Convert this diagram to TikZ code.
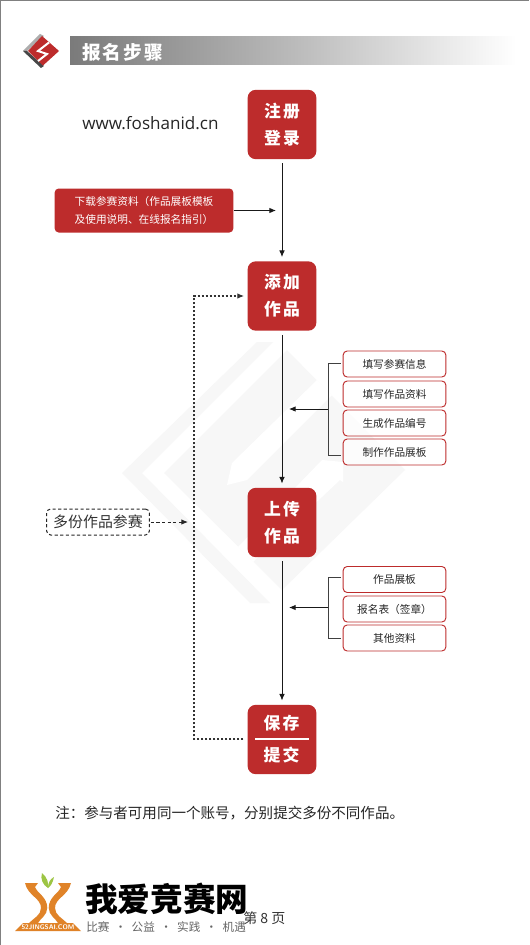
\documentclass[tikz,border=0pt]{standalone}
\usepackage{fontspec}
\usetikzlibrary{arrows.meta,calc}
\setmainfont{Noto Sans CJK SC}
\newfontfamily\latinf{Open Sans}
\definecolor{cred}{HTML}{BD2C2C}
\definecolor{wm}{HTML}{F7F7F7}
\definecolor{corg}{HTML}{E08328}
\definecolor{cleaf}{HTML}{9DC544}
\tikzset{
 x=0.75pt,y=-0.75pt,
 mainbox/.style={fill=cred,draw=none,rounded corners=6pt,minimum width=51.5pt,minimum height=52pt,inner sep=0pt,text=white,align=center,font=\fontsize{12.6pt}{20.2pt}\bfseries\selectfont},
 subbox/.style={draw=cred,fill=white,fill opacity=0.7,text opacity=1,line width=0.7pt,rounded corners=3pt,minimum width=77pt,minimum height=19.5pt,inner sep=0pt,font=\fontsize{8pt}{10pt}\selectfont,text=black!85},
 flow/.style={line width=0.7pt,black!90,-{Latex[length=5pt,width=4.2pt]}},
 brk/.style={line width=0.75pt,black!75},
 dot/.style={line width=0.8pt,black!80,dash pattern=on 1.5pt off 1.5pt},
 dsh/.style={line width=0.75pt,black!85,dash pattern=on 2.4pt off 1.8pt},
}
\begin{document}
\begin{tikzpicture}
\useasboundingbox (0,0) rectangle (529,945);
\fill[white] (0,0) rectangle (529,945);
\draw[gray,line width=0.9pt] (0.5,945) -- (0.5,0.5) -- (529,0.5);
% watermark: outer chevron
\fill[wm] (257,342) -- (273,342) -- (142,473) -- (270,603) -- (250,603) -- (122,473) -- cycle;
% watermark: S diamond
\fill[wm] (287,350) -- (405,470) -- (282,590) -- (164,473) -- cycle;
\fill[white] (317,380) -- (232,463) -- (227,485) -- (247,480) -- (332,395) -- cycle;
\fill[white] (322,460) -- (343,462) -- (343,482) -- (340,480) -- (253,562) -- (238,547) -- cycle;
% header
\shade[left color=black!52,right color=white,middle color=black!27] (70,37) rectangle (516,65);
\node[anchor=west,text=white,inner sep=0pt,font=\fontsize{14pt}{16pt}\bfseries\selectfont] (title) at (82,52) {报\hspace{1.5pt}名\hspace{1.5pt}步\hspace{1.5pt}骤};
% logo
\fill[black!32] (40,34) -- (44,36) -- (27,51) -- (23,51) -- cycle;
\fill[black!72] (23,51) -- (27,51) -- (44,66) -- (41,68) -- cycle;
\fill[cred] (42,36) -- (59,51) -- (43,65.5) -- (28,51) -- cycle;
\draw[white,line width=1.5pt] (49,42.5) -- (38,51) -- (47,54) -- (38,61);
% url
\node[anchor=west,inner sep=0pt,font=\latinf\fontsize{12.8pt}{16pt}\selectfont,text=black!85] (url) at (82,123) {www.foshanid.cn};
% main boxes
\node[mainbox] (reg) at (282,124.5) {注\hspace{1.5pt}册\\登\hspace{1.5pt}录};
\node[mainbox] (add) at (282,296) {添\hspace{1.5pt}加\\作\hspace{1.5pt}品};
\node[mainbox] (up) at (282,522.5) {上\hspace{1.5pt}传\\作\hspace{1.5pt}品};
\node[mainbox] (save) at (282,739.5) {};
\node[text=white,inner sep=0pt,font=\fontsize{12.6pt}{16pt}\bfseries\selectfont] (s1) at (281.5,723) {保\hspace{1.5pt}存};
\node[text=white,inner sep=0pt,font=\fontsize{12.6pt}{16pt}\bfseries\selectfont] (s2) at (281.5,755) {提\hspace{1.5pt}交};
\draw[white,line width=0.8pt] (255,739) -- (309,739);
% download box
\node[fill=cred,rounded corners=3pt,minimum width=134pt,minimum height=33pt,inner sep=0pt,text=white,align=center,font=\fontsize{8pt}{14pt}\selectfont] (dl) at (144,210.5) {下载参赛资料（作品展板模板\\及使用说明、在线报名指引）};
% sub boxes
\node[subbox] (a1) at (394.5,364) {填写参赛信息};
\node[subbox] (a2) at (394.5,394) {填写作品资料};
\node[subbox] (a3) at (394.5,423) {生成作品编号};
\node[subbox] (a4) at (394.5,452) {制作作品展板};
\node[subbox] (b1) at (394.5,579.5) {作品展板};
\node[subbox] (b2) at (394.5,609) {报名表（签章）};
\node[subbox] (b3) at (394.5,638) {其他资料};
% multi
\node[draw=black!85,dash pattern=on 2.4pt off 1.8pt,line width=0.75pt,rounded corners=3pt,minimum width=77pt,minimum height=19.5pt,inner sep=0pt,font=\fontsize{11.2pt}{12pt}\selectfont,text=black!80] (multi) at (98,522) {多份作品参赛};
% connectors
\coordinate (regout) at ($(reg.south)+(0,4)$);
\coordinate (addin) at ($(add.north)+(0,-4)$);
\coordinate (addout) at ($(add.south)+(0,4)$);
\coordinate (upin) at ($(up.north)+(0,-4)$);
\coordinate (upout) at ($(up.south)+(0,4)$);
\coordinate (savein) at ($(save.north)+(0,-4)$);
\draw[flow] (regout) -- (addin);
\draw[flow] (addout) -- (upin);
\draw[flow] (upout) -- (savein);
\coordinate (dlend) at (276,210.5);
\draw[flow] (dl.east) -- (dlend);
% brackets
\coordinate (ba) at (328,409);
\coordinate (bb) at (328,607.5);
\coordinate (ta) at (289,409);
\coordinate (tb) at (289,607.5);
\draw[brk] ($(a1.west)+(-2,-1)$) -- (328,363) -- (328,455) -- ($(a4.west)+(-2,3)$);
\draw[flow] (ba) -- (ta);
\draw[brk] ($(b1.west)+(-2,-2.5)$) -- (328,577) -- (328,638) -- ($(b3.west)+(-2,0)$);
\draw[flow] (bb) -- (tb);
% dotted loop
\coordinate (sl) at ($(save.west)+(-4,-0.5)$);
\coordinate (al) at (244,296);
\coordinate (lpb) at (194,739);
\coordinate (lpt) at (194,296);
\draw[dot,-{Latex[length=5pt,width=4.2pt]}] (sl) -- (lpb) -- (lpt) -- (al);
\coordinate (mend) at (188,522);
\draw[dsh,-{Latex[length=5pt,width=4.2pt]}] ($(multi.east)+(1,0)$) -- (mend);
% note
\node[anchor=west,inner sep=0pt,font=\fontsize{10.9pt}{12pt}\selectfont,text=black!85] (note) at (55,813.5) {注：参与者可用同一个账号，分别提交多份不同作品。};
% footer logo
\fill[corg] (25,883) -- (38,883) -- (35,887) .. controls (37,893) and (47.3,897) .. (47.3,908) .. controls (47.3,915) and (40,919) .. (38,923) -- (29,923) .. controls (34,918) and (41,915) .. (41,908) .. controls (41,898) and (28,896) .. (25,883) -- cycle;
\fill[corg] (71,883) -- (58,883) -- (61,887) .. controls (59,893) and (48.7,897) .. (48.7,908) .. controls (48.7,915) and (56,919) .. (58,923) -- (67,923) .. controls (62,918) and (55,915) .. (55,908) .. controls (55,898) and (68,896) .. (71,883) -- cycle;
\fill[corg] (15,931) -- (23,923) -- (73,923) -- (81,931) -- cycle;
\fill[cleaf] (42,873) .. controls (47,877) and (49,883) .. (48,888) .. controls (43,885) and (40,879) .. (42,873) -- cycle;
\fill[cleaf] (54,877) .. controls (53,882) and (51,886) .. (48,888) .. controls (48,883) and (50,879) .. (54,877) -- cycle;
\node[text=white,inner sep=0pt,font=\sffamily\bfseries\fontsize{5pt}{6pt}\selectfont] (lg) at (48,927.5) {52JINGSAI.COM};
\node[anchor=west,inner sep=0pt,font=\fontsize{24.5pt}{28pt}\bfseries\selectfont,text=black] (brand) at (85,899) {我爱竞赛网};
\node[anchor=west,inner sep=0pt,font=\fontsize{8.7pt}{10pt}\selectfont,text=black!60] (sl2) at (86,927) {比赛\hspace{4pt}•\hspace{4pt}公益\hspace{4pt}•\hspace{4pt}实践\hspace{4pt}•\hspace{4pt}机遇};
\node[anchor=west,inner sep=0pt,font=\fontsize{10.5pt}{11pt}\selectfont,text=black!80] (pg) at (243,918) {第 8 页};
\end{tikzpicture}
\end{document}
